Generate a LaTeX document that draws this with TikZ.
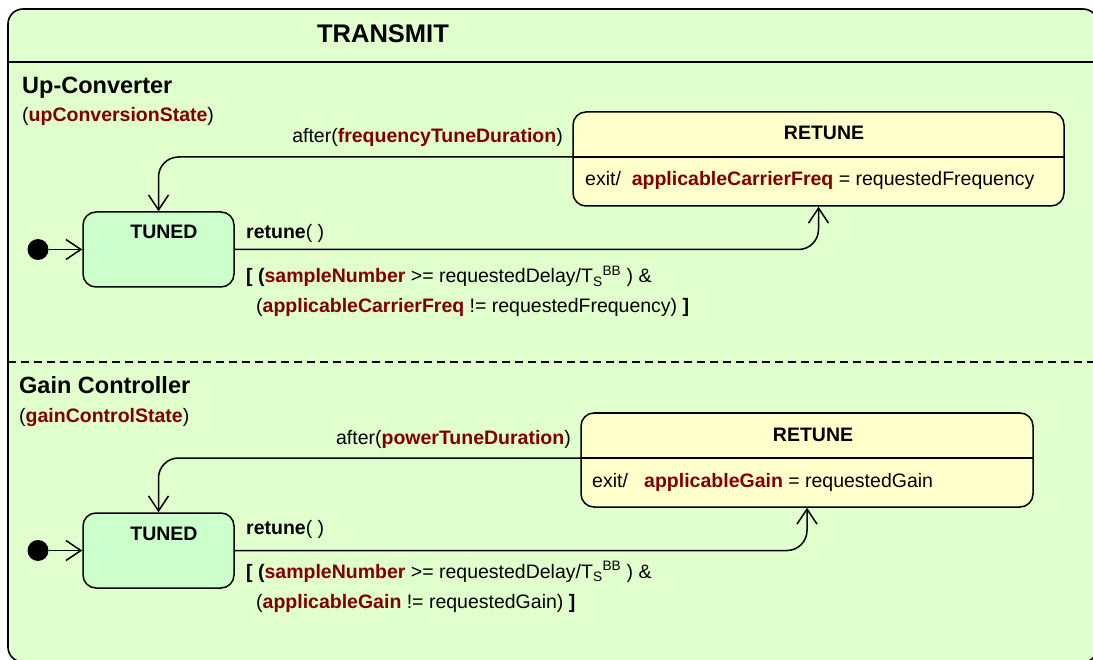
\documentclass[tikz,border=0pt]{standalone}
\usepackage{fontspec}
\setmainfont{Liberation Sans}
\usetikzlibrary{arrows.meta}
\definecolor{regionbg}{RGB}{224,255,204}
\definecolor{tunedfill}{RGB}{204,255,204}
\definecolor{retunefill}{RGB}{255,255,204}
\definecolor{varred}{RGB}{128,0,0}
\newcommand{\vn}[1]{\textcolor{varred}{\textbf{#1}}}

\tikzset{
    statebox/.style={draw, line width=1.5pt, rounded corners=13pt, inner sep=0pt},
    statename/.style={font=\fontsize{19.5}{23}\selectfont\bfseries, anchor=base},
    heading/.style={font=\fontsize{23.5}{28}\selectfont\bfseries, anchor=base west},
    trans/.style={line width=1.5pt, rounded corners=20pt, -{Straight Barb[length=15pt,width=20pt,line width=1.5pt]}},
    initdot/.style={circle, fill=black, minimum size=21pt, inner sep=0pt}
}

\begin{document}
\begin{tikzpicture}[x=1pt, y=-1pt, every node/.style={inner sep=0pt}, font=\fontsize{19.5}{30}\selectfont]
    \useasboundingbox (0,0) rectangle (1093,660);

    % Outer state
    \draw[line width=1.6pt, fill=regionbg, rounded corners=15pt] (8,9) rectangle (1098,662);
    \draw[line width=1.6pt] (8,62) -- (1098,62);
    \node[font=\fontsize{25.5}{30}\selectfont\bfseries, anchor=base] (title) at (383,43) {TRANSMIT};

    % Region separator
    \draw[line width=1.3pt, dash pattern=on 8pt off 5pt] (8,362) -- (1098,362);

    % Up-Converter region
    \node[heading] (upconv) at (22,94) {Up-Converter};
    \node[anchor=base west] (upstate) at (22,122) {(\vn{upConversionState})};

    \node[initdot] (init1) at (38,249.5) {};
    \node[statebox, fill=tunedfill, minimum width=151pt, minimum height=75pt] (tuned1) at (158.5,249.5) {};
    \node[statename] (tuned1name) at (164,239) {TUNED};

    \node[statebox, fill=retunefill, minimum width=491pt, minimum height=94pt] (retune1) at (818.5,159) {};
    \node[statename] (retune1name) at (824,140) {RETUNE};
    \draw[line width=1.5pt] (retune1.west |- 0,157) -- (retune1.east |- 0,157);
    \node[anchor=base west] (exit1) at (585,186) {exit/\ \ \vn{applicableCarrierFreq} = requestedFrequency};
    \coordinate (r1out) at (retune1.west |- 0,157);

    \draw[trans] (init1) -- (tuned1.west);
    \draw[trans] (tuned1.east) -| (retune1.south);
    \draw[trans] (r1out) -| (tuned1.north);

    \node[anchor=base east] (after1) at (563,143) {after(\vn{frequencyTuneDuration})};
    \node[anchor=base west] (ev1) at (246,239) {\textbf{retune}( )};
    \node[anchor=base west, align=left] (guard1) at (246,313)
        {\textbf{[ (}\vn{sampleNumber} >= requestedDelay/T\textsubscript{S}\textsuperscript{BB} ) \&\\
         \hspace*{10pt}(\vn{applicableCarrierFreq} != requestedFrequency) \textbf{]}};

    % Gain Controller region
    \node[heading] (gainctrl) at (19,394) {Gain Controller};
    \node[anchor=base west] (gainstate) at (19,422) {(\vn{gainControlState})};

    \node[initdot] (init2) at (38,550.5) {};
    \node[statebox, fill=tunedfill, minimum width=151pt, minimum height=75pt] (tuned2) at (158.5,550.5) {};
    \node[statename] (tuned2name) at (164,540) {TUNED};

    \node[statebox, fill=retunefill, minimum width=452pt, minimum height=94pt] (retune2) at (807,460) {};
    \node[statename] (retune2name) at (813,441) {RETUNE};
    \draw[line width=1.5pt] (retune2.west |- 0,458) -- (retune2.east |- 0,458);
    \node[anchor=base west] (exit2) at (592,487) {exit/\ \ \ \vn{applicableGain} = requestedGain};
    \coordinate (r2out) at (retune2.west |- 0,458);

    \draw[trans] (init2) -- (tuned2.west);
    \draw[trans] (tuned2.east) -| (retune2.south);
    \draw[trans] (r2out) -| (tuned2.north);

    \node[anchor=base east] (after2) at (571,444) {after(\vn{powerTuneDuration})};
    \node[anchor=base west] (ev2) at (246,534) {\textbf{retune}( )};
    \node[anchor=base west, align=left] (guard2) at (246,608)
        {\textbf{[ (}\vn{sampleNumber} >= requestedDelay/T\textsubscript{S}\textsuperscript{BB} ) \&\\
         \hspace*{10pt}(\vn{applicableGain} != requestedGain) \textbf{]}};
\end{tikzpicture}
\end{document}
